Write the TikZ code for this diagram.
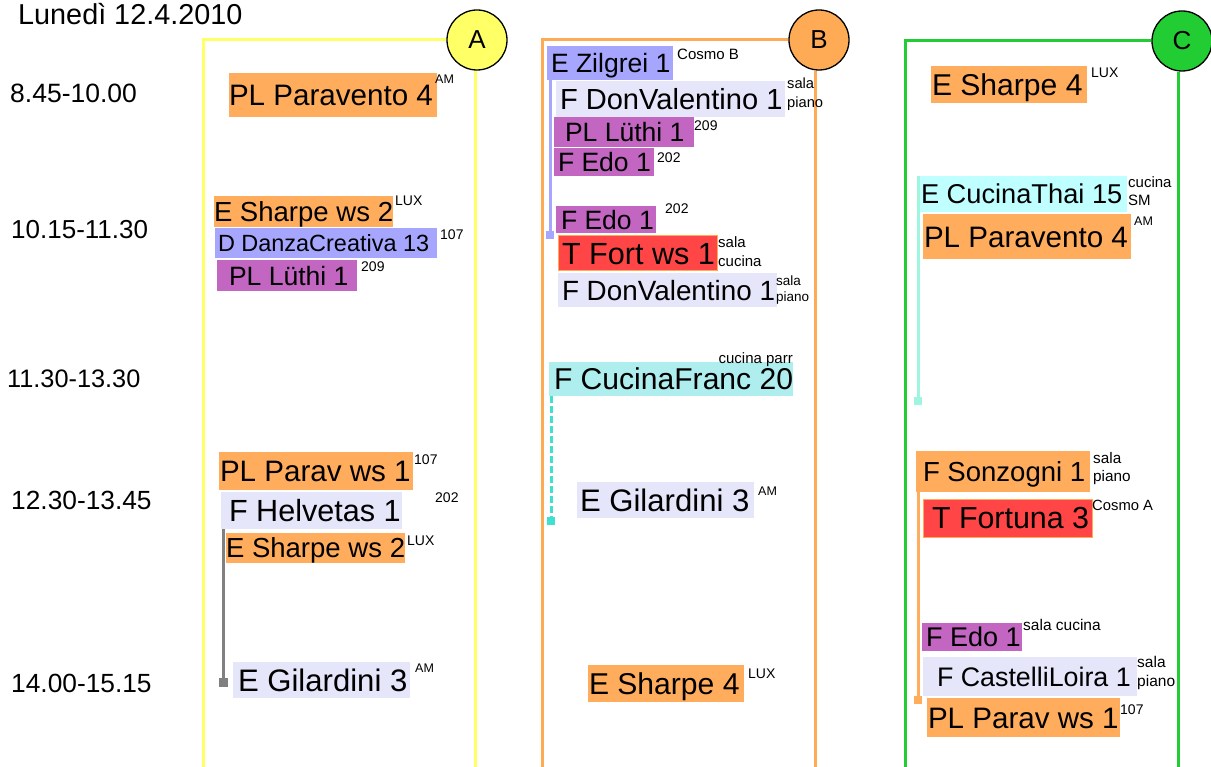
\documentclass[tikz,border=0pt]{standalone}
\usepackage{fontspec}
\setmainfont{Liberation Sans}
\pgfdeclarelayer{background}
\pgfsetlayers{background,main}
\definecolor{cOrange}{HTML}{FFAD5C}
\definecolor{cBlue}{HTML}{A6A6FF}
\definecolor{cPurple}{HTML}{C266C2}
\definecolor{cLav}{HTML}{E6E6FA}
\definecolor{cRed}{HTML}{FF4545}
\definecolor{cCyan}{HTML}{AFEEEE}
\definecolor{cCyanL}{HTML}{C0FFFF}
\definecolor{cYellow}{HTML}{FFFF66}
\definecolor{cFrameO}{HTML}{FFAA55}
\definecolor{cGreen}{HTML}{22CC33}
\definecolor{cAqua}{HTML}{9FF5E0}
\definecolor{cTurq}{HTML}{40E0D0}
\definecolor{cGray}{HTML}{808080}
\newcommand\ev[9]{\pgfmathsetmacro\evfs{#7*1.02}\node[evbox, fill=#6, minimum width=#4pt, minimum height=#5pt, text height=\evfs*0.72pt, text depth=0pt, font=\fontsize{\evfs}{\evfs}\selectfont] (#1) at (#2,#3) {\makebox[#4pt][l]{\hspace*{#8pt}#9}};}
\begin{document}
\begin{tikzpicture}[x=1pt,y=-1pt,
  evbox/.style={anchor=north west, inner sep=0pt, outer sep=0pt, draw=none},
  supl/.style={anchor=north west, inner sep=0pt, align=left, font=\fontsize{14}{18}\selectfont},
  tlabel/.style={anchor=base west, inner sep=0pt, font=\fontsize{26}{26}\selectfont},
  circ/.style={circle, draw=black, line width=1.3pt, minimum size=60pt, inner sep=0pt, font=\fontsize{26}{26}\selectfont},
  framel/.style={line width=3pt},
  conn/.style={line width=3pt},
  sqmark/.style={rectangle, minimum size=8.5pt, inner sep=0pt, draw=none}]
\useasboundingbox (0,0) rectangle (1211,767);

% title and times
\node[tlabel, font=\fontsize{28.8}{28.8}\selectfont] (title) at (18,25) {Lunedì 12.4.2010};
\node[tlabel, font=\fontsize{26.5}{26.5}\selectfont] (t1) at (10,103) {8.45-10.00};
\node[tlabel] (t2) at (11,239) {10.15-11.30};
\node[tlabel, font=\fontsize{25.3}{25.3}\selectfont] (t3) at (7,388) {11.30-13.30};
\node[tlabel, font=\fontsize{26.3}{26.3}\selectfont] (t4) at (11,509) {12.30-13.45};
\node[tlabel, font=\fontsize{26.3}{26.3}\selectfont] (t5) at (11,692) {14.00-15.15};

% column headers
\node[circ, fill=cYellow] (cA) at (477,40) {A};
\node[circ, fill=cFrameO] (cB) at (819,40) {B};
\node[circ, fill=cGreen] (cC) at (1182,41) {C};
\begin{pgfonlayer}{background}
\fill[white] (0,0) rectangle (1211,767);
\draw[framel, cYellow] (203,780) |- (cA);
\draw[framel, cYellow] ([xshift=-2pt]cA.south) -- ++(0,740);
\draw[framel, cFrameO] (542,780) |- (cB);
\draw[framel, cFrameO] ([xshift=-4pt]cB.south) -- ++(0,740);
\draw[framel, cGreen] (905,780) |- (cC);
\draw[framel, cGreen] ([xshift=-4pt]cC.south) -- ++(0,740);
\end{pgfonlayer}

% column A
\ev{a1}{229}{73}{208}{44}{cOrange}{29}{0}{PL Paravento 4}
\ev{a2}{214}{196}{179}{31}{cOrange}{27}{0}{E Sharpe ws 2}
\ev{a3}{215}{228}{222}{30}{cBlue}{23}{3}{D DanzaCreativa 13}
\ev{a4}{217}{260}{140}{31}{cPurple}{26}{12}{PL Lüthi 1}
\ev{a5}{219}{452}{194}{38}{cOrange}{29}{1}{PL Parav ws 1}
\ev{a6}{221}{492}{181}{37}{cLav}{30}{8}{F Helvetas 1}
\ev{a7}{226}{533}{179}{30}{cOrange}{27}{0}{E Sharpe ws 2}
\ev{a8}{233}{662}{177}{36}{cLav}{30.5}{5}{E Gilardini 3}
\node[supl, font=\fontsize{12.5}{15}\selectfont] (a1s) at (435,75) {AM};
\node[supl] (a2s) at (395,196) {LUX};
\node[supl] (a3s) at (440,230) {107};
\node[supl] (a4s) at (361,262) {209};
\node[supl] (a5s) at (414,455) {107};
\node[supl] (a6s) at (435,493) {202};
\node[supl] (a7s) at (407,536) {LUX};
\node[supl, font=\fontsize{12.5}{15}\selectfont] (a8s) at (415,664) {AM};

% column B
\ev{b1}{547}{46}{126}{34}{cBlue}{26}{4}{E Zilgrei 1}
\ev{b2}{556}{81}{229}{36}{cLav}{28.5}{4}{F DonValentino 1}
\ev{b3}{554}{117}{140}{30}{cPurple}{26}{11}{PL Lüthi 1}
\ev{b4}{554}{148}{100}{28}{cPurple}{26}{4}{F Edo 1}
\ev{b5}{556}{206}{100}{27}{cPurple}{26}{5}{F Edo 1}
\ev{b6}{558}{236}{159}{35}{cRed}{30}{4}{T Fort ws 1}
\draw[cFrameO, line width=1pt] (b6.north west) rectangle (b6.south east);
\ev{b7}{558}{273}{219}{34}{cLav}{27.3}{4}{F DonValentino 1}
\ev{b8}{549}{362}{244}{34}{cCyan}{29.5}{5}{F CucinaFranc 20}
\ev{b9}{577}{482}{177}{36}{cLav}{30.5}{3}{E Gilardini 3}
\ev{b10}{588}{665}{156}{37}{cOrange}{29.5}{1}{E Sharpe 4}
\node[supl, font=\fontsize{15}{18}\selectfont] (b1s) at (677,49) {Cosmo B};
\node[supl, font=\fontsize{14.7}{19}\selectfont] (b2s) at (787,78) {sala\\piano};
\node[supl] (b3s) at (694,121) {209};
\node[supl] (b4s) at (657,153) {202};
\node[supl] (b5s) at (665,204) {202};
\node[supl, font=\fontsize{15}{19}\selectfont] (b6s) at (718,236) {sala\\cucina};
\node[supl, font=\fontsize{13.5}{16}\selectfont] (b7s) at (776,276) {sala\\piano};
\node[supl, anchor=north east, font=\fontsize{15}{18}\selectfont] (b8s) at (793,352) {cucina parr};
\node[supl, font=\fontsize{12.5}{15}\selectfont] (b9s) at (758,487) {AM};
\node[supl] (b10s) at (748,669) {LUX};

% column C
\ev{c1}{931}{66}{156}{37}{cOrange}{29.5}{1}{E Sharpe 4}
\ev{c2}{917}{176}{210}{36}{cCyanL}{26.7}{4}{E CucinaThai 15}
\ev{c3}{923}{214}{208}{45}{cOrange}{29}{1}{PL Paravento 4}
\ev{c4}{916}{451}{174}{41}{cOrange}{27}{7}{F Sonzogni 1}
\ev{c5}{923}{499}{169}{38}{cRed}{29.8}{9}{T Fortuna 3}
\draw[cFrameO, line width=1pt] (c5.north west) rectangle (c5.south east);
\ev{c6}{922}{623}{100}{28}{cPurple}{26.5}{4}{F Edo 1}
\ev{c7}{923}{657}{214}{39}{cLav}{26.3}{14}{F CastelliLoira 1}
\ev{c8}{927}{698}{193}{39}{cOrange}{29}{1}{PL Parav ws 1}
\node[supl] (c1s) at (1091,68) {LUX};
\node[supl, font=\fontsize{15}{18}\selectfont] (c2s) at (1128,176) {cucina\\SM};
\node[supl, font=\fontsize{12.5}{15}\selectfont] (c3s) at (1134,217) {AM};
\node[supl, font=\fontsize{15.3}{18}\selectfont] (c4s) at (1093,452) {sala\\piano};
\node[supl, font=\fontsize{14.8}{18}\selectfont] (c5s) at (1092,500) {Cosmo A};
\node[supl, font=\fontsize{15.5}{18}\selectfont] (c6s) at (1023,619) {sala cucina};
\node[supl, font=\fontsize{15.5}{19}\selectfont] (c7s) at (1137,656) {sala\\piano};
\node[supl] (c8s) at (1120,705) {107};

% connectors
\node[sqmark, fill=cGray] (qA) at (223.5,682.5) {};
\draw[conn, cGray] (qA |- a6.south) -- (qA);
\node[sqmark, fill=cBlue] (qB) at (550,235) {};
\draw[conn, cBlue] (qB |- b1.south) -- (qB);
\node[sqmark, fill=cTurq] (qB2) at (551,521) {};
\draw[conn, cTurq, dash pattern=on 7pt off 3pt] (qB2 |- b8.south) -- (qB2);
\node[sqmark, fill=cAqua] (qC) at (918,401) {};
\draw[conn, cAqua] (qC |- c2.north) -- (qC);
\node[sqmark, fill=cOrange] (qC2) at (918,700) {};
\draw[conn, cOrange] (qC2 |- c4.south) -- (qC2);
\end{tikzpicture}
\end{document}
